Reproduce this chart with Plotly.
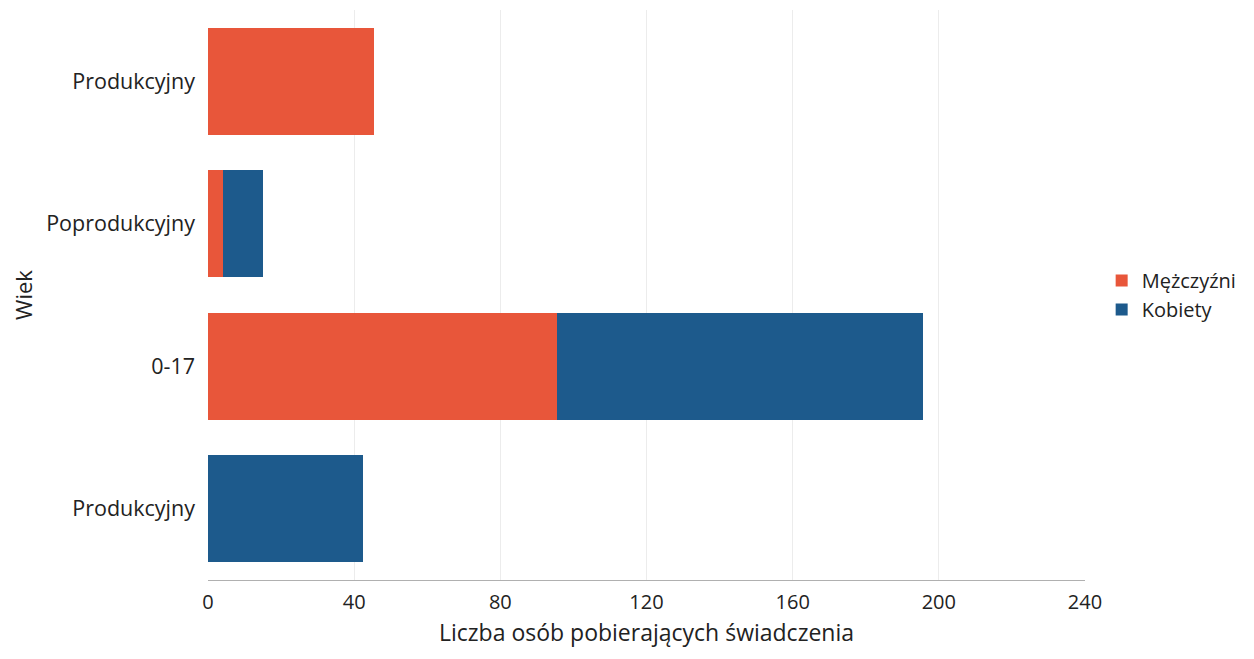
import plotly.graph_objects as go

categories = ["Produkcyjny", "0-17", "Poprodukcyjny", "Produkcyjny"]  # bottom to top
positions = [0, 1, 2, 3]
men = [0, 95.5, 4, 45.5]
women = [42.5, 100.3, 11, 0]
x_ticks = [0, 40, 80, 120, 160, 200, 240]

fig = go.Figure()
fig.add_trace(go.Bar(y=positions, x=men, orientation="h", name="Mężczyźni",
                     marker=dict(color="#e8563a", line=dict(width=0))))
fig.add_trace(go.Bar(y=positions, x=women, orientation="h", name="Kobiety",
                     marker=dict(color="#1d5a8c", line=dict(width=0))))

fig.update_layout(
    barmode="stack",
    bargap=0.25,
    width=1254, height=659,
    margin=dict(l=200, r=177, t=2, b=87),
    paper_bgcolor="white", plot_bgcolor="white",
    font=dict(family="Open Sans", size=21, color="#222"),
    legend=dict(x=1.019, y=0.5, yanchor="middle", font=dict(size=20),
                traceorder="normal", itemwidth=30, tracegroupgap=0),
    xaxis=dict(range=[0, 240], tickvals=x_ticks, showgrid=True,
               gridcolor="#ececec", zeroline=False, showline=True,
               linecolor="#b0b0b0", linewidth=1, automargin=False,
               title=dict(text="Liczba osób pobierających świadczenia", font=dict(size=23),
                          standoff=10),
               ticks="", ticklabelstandoff=4, tickfont=dict(size=20)),
    yaxis=dict(tickvals=positions, ticktext=categories, range=[-0.5, 3.5],
               showgrid=False, zeroline=False, showline=False, automargin=False,
               title=dict(text="Wiek", font=dict(size=22), standoff=22),
               ticks="", ticklabelstandoff=12, tickfont=dict(size=21.5)),
)

fig.write_html("out.html")
